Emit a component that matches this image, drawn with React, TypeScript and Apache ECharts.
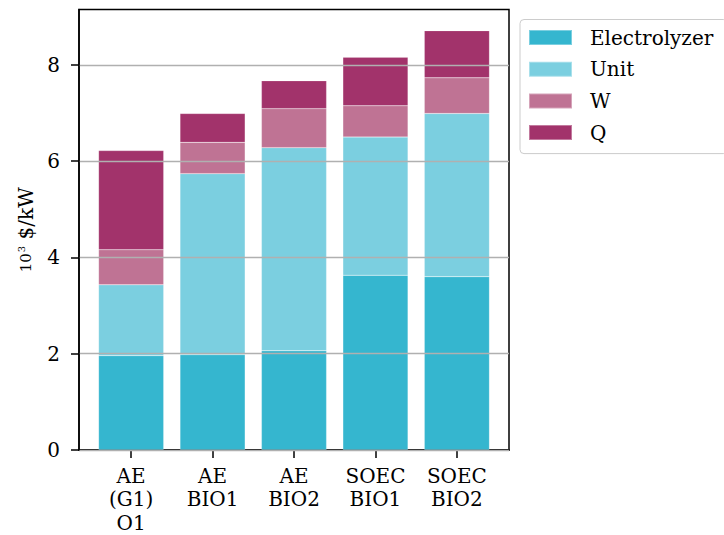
import React, { useEffect, useRef } from "react";
import * as echarts from "echarts";

const categories = ["AE\n(G1)\nO1", "AE\nBIO1", "AE\nBIO2", "SOEC\nBIO1", "SOEC\nBIO2"];
const electrolyzer = [1.96, 1.98, 2.06, 3.63, 3.60];
const unit = [1.47, 3.76, 4.22, 2.87, 3.39];
const w = [0.73, 0.65, 0.81, 0.65, 0.74];
const q = [2.06, 0.60, 0.58, 1.01, 0.98];
const yTicks = [0, 2, 4, 6, 8];
const xTicks = [0, 1, 2, 3, 4];

const seriesDefs = [
  { name: "Electrolyzer", values: electrolyzer, color: "#35b6cf" },
  { name: "Unit", values: unit, color: "#7bcfe0" },
  { name: "W", values: w, color: "#bf7394" },
  { name: "Q", values: q, color: "#a2336b" },
];

const FONT = "DejaVu Serif";
const X_MIN = -0.64;
const X_MAX = 4.64;
const Y_MAX = 9.15;
const PLOT_LEFT = 79;
const PLOT_RIGHT = 509;
const PLOT_TOP = 9.5;
const PLOT_BOTTOM = 450;

export default function App() {
  const ref = useRef<HTMLDivElement>(null);
  useEffect(() => {
    if (!ref.current) return;
    const chart = echarts.init(ref.current, undefined, { renderer: "svg" });
    const unitPx = (PLOT_RIGHT - PLOT_LEFT) / (X_MAX - X_MIN);
    const barLeft = PLOT_LEFT + (-0.5 - X_MIN) * unitPx;
    const barWidthTotal = categories.length * unitPx;
    chart.setOption({
      animation: false,
      backgroundColor: "#ffffff",
      grid: [
        {
          left: PLOT_LEFT,
          right: 724 - PLOT_RIGHT,
          top: PLOT_TOP,
          bottom: 535 - PLOT_BOTTOM,
          outerBoundsMode: "none",
          containLabel: false,
          show: true,
          borderColor: "#000",
          borderWidth: 1.5,
          backgroundColor: "transparent",
        },
        {
          left: barLeft,
          width: barWidthTotal,
          top: PLOT_TOP,
          bottom: 535 - PLOT_BOTTOM,
          outerBoundsMode: "none",
          containLabel: false,
        },
      ],
      legend: {
        orient: "vertical",
        left: 520,
        top: 19.5,
        itemWidth: 43,
        itemHeight: 15,
        itemGap: 11.7,
        padding: [8, 14, 11, 8],
        borderColor: "#cccccc",
        borderWidth: 1,
        borderRadius: 4,
        icon: "rect",
        data: seriesDefs.map((s) => s.name),
        textStyle: {
          fontFamily: FONT,
          fontSize: 20,
          lineHeight: 20,
          color: "#000",
          padding: [0, 0, 0, 13],
        },
      },
      xAxis: [
        {
          type: "value",
          gridIndex: 0,
          min: X_MIN,
          max: X_MAX,
          splitLine: { show: false },
          axisLine: { show: true, onZero: false, lineStyle: { color: "#000", width: 1.5 } },
          axisTick: {
            show: true,
            customValues: xTicks,
            length: 8,
            lineStyle: { color: "#000", width: 1.5 },
          },
          axisLabel: {
            customValues: xTicks,
            formatter: (v: number) => categories[Math.round(v)] ?? "",
            fontFamily: FONT,
            fontSize: 20,
            lineHeight: 23.5,
            color: "#000",
            margin: 14,
            align: "center",
          },
        },
        {
          type: "category",
          gridIndex: 1,
          data: categories,
          show: false,
        },
      ],
      yAxis: [
        {
          type: "value",
          gridIndex: 0,
          min: 0,
          max: Y_MAX,
          interval: 2,
          z: 5,
          name: "{a|10}{s|3}{b| $/kW}",
          nameLocation: "middle",
          nameRotate: 90,
          nameGap: 42,
          nameTextStyle: {
            rich: {
              a: { fontFamily: FONT, fontSize: 15, color: "#000" },
              s: { fontFamily: FONT, fontSize: 10, color: "#000", verticalAlign: "top", padding: [0, 0, 8, 1] },
              b: { fontFamily: FONT, fontSize: 20, color: "#000" },
            },
          },
          axisLine: { show: true, onZero: false, lineStyle: { color: "#000", width: 1.5 } },
          axisTick: {
            show: true,
            customValues: yTicks,
            length: 8,
            lineStyle: { color: "#000", width: 1.5 },
          },
          axisLabel: {
            customValues: yTicks,
            fontFamily: FONT,
            fontSize: 20,
            color: "#000",
            margin: 19,
          },
          splitLine: { show: true, lineStyle: { color: "#b0b0b0", width: 1.3 } },
        },
        {
          type: "value",
          gridIndex: 1,
          min: 0,
          max: Y_MAX,
          show: false,
          splitLine: { show: false },
        },
      ],
      series: seriesDefs.map((s) => ({
        name: s.name,
        type: "bar",
        xAxisIndex: 1,
        yAxisIndex: 1,
        stack: "total",
        barWidth: "80%",
        itemStyle: { color: s.color, borderColor: "rgba(255,255,255,0.35)", borderWidth: 0.5 },
        data: s.values,
      })),
    });
    return () => chart.dispose();
  }, []);
  return (
    <div
      ref={ref}
      style={{ width: 724, height: 535, position: "fixed", left: 0, top: 0 }}
    />
  );
}
